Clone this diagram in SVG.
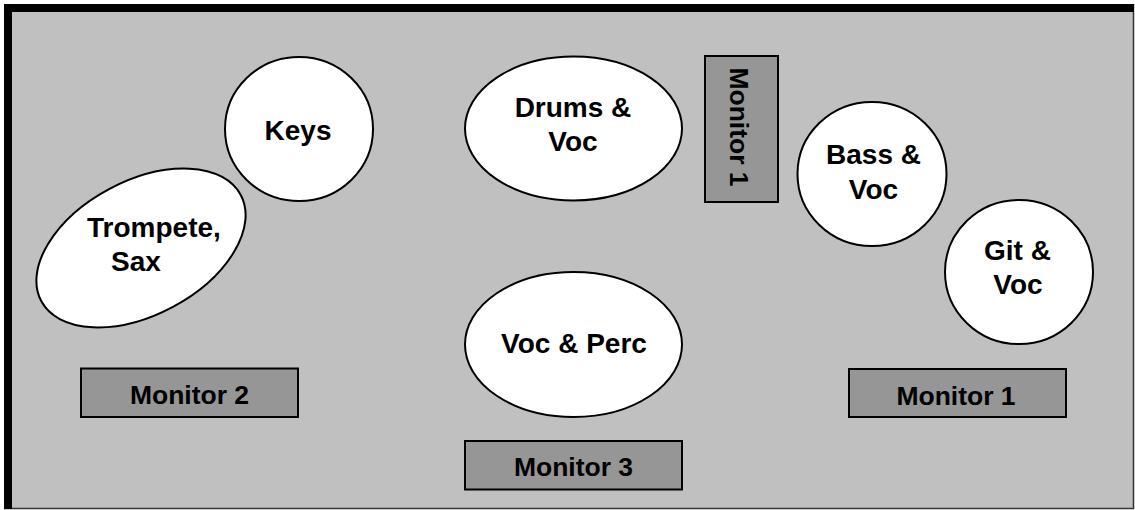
<svg xmlns="http://www.w3.org/2000/svg" width="1135" height="510" viewBox="0 0 1135 510">
<style>
.spot{fill:#ffffff;stroke:#000000;stroke-width:2}
.mon{fill:#969696;stroke:#000000;stroke-width:2}
.lbl{font-family:"Liberation Sans",Arial,Helvetica,sans-serif;font-weight:bold;font-size:28px;fill:#000000;text-anchor:middle}
.mlbl{font-family:"Liberation Sans",Arial,Helvetica,sans-serif;font-weight:bold;font-size:26.5px;fill:#000000;text-anchor:middle}
</style>
<rect x="0" y="0" width="1135" height="510" fill="#ffffff"/>
<g id="stage">
<rect x="4" y="4" width="1130" height="505" fill="#c0c0c0"/>
<path d="M1133.5,4 V508.5 H4" fill="none" stroke="#333333" stroke-width="1.5"/>
<path d="M8,509 V8 H1134" fill="none" stroke="#000000" stroke-width="8" stroke-linejoin="miter"/>
</g>
<g id="connectors"></g>
<g id="keys">
<ellipse class="spot" cx="299" cy="129" rx="74" ry="72"/>
<text class="lbl" x="298" y="140">Keys</text>
</g>
<g id="trompete">
<ellipse class="spot" cx="141" cy="248" rx="113" ry="67" transform="rotate(-28 141 248)"/>
<text class="lbl" x="87" y="237" style="text-anchor:start">Trompete,</text>
<text class="lbl" x="111" y="271" style="text-anchor:start">Sax</text>
</g>
<g id="drums">
<ellipse class="spot" cx="573.5" cy="128.5" rx="108.5" ry="72"/>
<text class="lbl" x="573" y="117">Drums &amp;</text>
<text class="lbl" x="573" y="151">Voc</text>
</g>
<g id="monitor1-vertical">
<rect class="mon" x="705" y="56" width="73" height="146"/>
<text class="mlbl" transform="translate(730,127) rotate(90)" x="0" y="0">Monitor 1</text>
</g>
<g id="bass">
<ellipse class="spot" cx="872" cy="174" rx="74.5" ry="72"/>
<text class="lbl" x="873.5" y="164">Bass &amp;</text>
<text class="lbl" x="873.5" y="199">Voc</text>
</g>
<g id="git">
<ellipse class="spot" cx="1019" cy="272" rx="74" ry="72"/>
<text class="lbl" x="1017.5" y="260">Git &amp;</text>
<text class="lbl" x="1018" y="294">Voc</text>
</g>
<g id="vocperc">
<ellipse class="spot" cx="573.5" cy="344.5" rx="108.5" ry="72.5"/>
<text class="lbl" x="574" y="353">Voc &amp; Perc</text>
</g>
<g id="monitor2">
<rect class="mon" x="81" y="368.5" width="217" height="48.5"/>
<text class="mlbl" x="189.5" y="404">Monitor 2</text>
</g>
<g id="monitor3">
<rect class="mon" x="465" y="441" width="217" height="48.5"/>
<text class="mlbl" x="573.5" y="476">Monitor 3</text>
</g>
<g id="monitor1">
<rect class="mon" x="849" y="369" width="217" height="48"/>
<text class="mlbl" x="956" y="405">Monitor 1</text>
</g>
</svg>
